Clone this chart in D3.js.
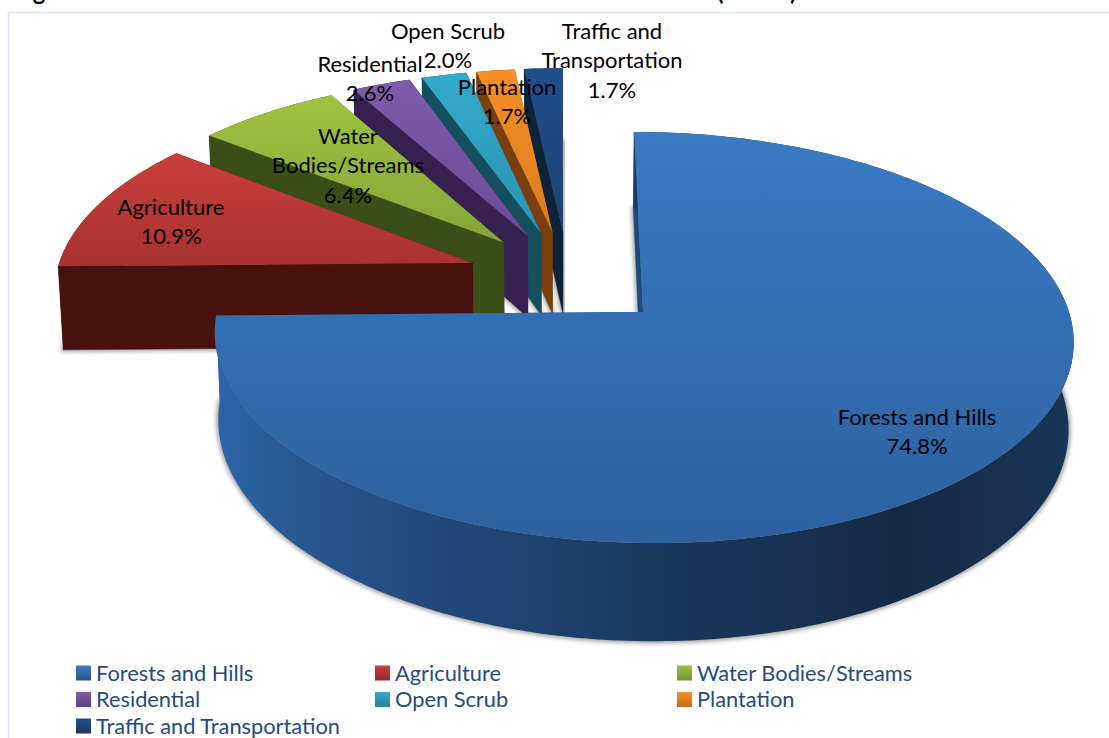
<!DOCTYPE html>
<html>
<head>
<meta charset="utf-8">
<script src="https://cdn.jsdelivr.net/npm/d3@7/dist/d3.min.js"></script>
<style>
  html, body { margin: 0; padding: 0; background: #fff; }
  svg { display: block; }
  text { font-family: Lato, "Open Sans", sans-serif; }
</style>
</head>
<body>
<div id="chart"></div>
<script>
// Land use shares, in percent
const categories = ["Forests and Hills", "Agriculture", "Water Bodies/Streams", "Residential", "Open Scrub", "Plantation", "Traffic and Transportation"];
const shares = [74.8, 10.9, 6.4, 2.6, 2.0, 1.7, 1.7];
const shareLabels = ["74.8%", "10.9%", "6.4%", "2.6%", "2.0%", "1.7%", "1.7%"];

// Slice colours: upper face (light, dark), side wall
const faceLight = ["#3a7bc4", "#c93e3a", "#a0c23f", "#7f5cab", "#33a9cb", "#f68f26", "#1f4f8c"];
const faceDark  = ["#2c609f", "#a83230", "#84a638", "#6c4a94", "#2a93b0", "#d97b1e", "#1b4170"];
const wallColor = ["#1c4473", "#47110d", "#3b4e17", "#352050", "#134f5f", "#7b3f0d", "#0c2339"];

// Label line breaks and their centres on the page
const labelLines = [["Forests and Hills"], ["Agriculture"], ["Water", "Bodies/Streams"], ["Residential"], ["Open Scrub"], ["Plantation"], ["Traffic and", "Transportation"]];
const labelCentres = [[917, 417], [171, 207], [348, 136], [370, 64], [448, 31], [507, 87], [612, 31]];

const W = 1109, H = 738;
const svg = d3.select("#chart").append("svg").attr("width", W).attr("height", H);
const defs = svg.append("defs");

// Camera: a tilted disc seen in perspective, vanishing towards x = 562
const radius = 426, tilt = 202.4, persp = 0.124, vanishX = 562;
const apexX = 643, apexY = 312, depth = 86, explode = 0.245;

function project(X, Z, lower) {
  const s = 1 / (1 - persp * Z);
  let x = vanishX + ((apexX - vanishX) + radius * X) * s;
  let y = apexY + tilt * Z * s;
  if (lower) {
    x = vanishX + (x - vanishX) * 0.99;
    y += depth * s;
  }
  return [x, y];
}

const arcs = d3.pie().sort(null).value(d => d)(shares);
const unit = a => [Math.sin(a), -Math.cos(a)];
const bisect = d => (d.startAngle + d.endAngle) / 2;

// Every slice moves out along its bisector; the camera is anchored on the large slice
const anchor = unit(bisect(arcs[0]));
const offsetOf = d => {
  const u = unit(bisect(d));
  return [explode * (u[0] - anchor[0]), explode * (u[1] - anchor[1])];
};

const line = d3.line();

function rim(d, lower) {
  const [ox, oz] = offsetOf(d);
  const n = Math.max(4, Math.ceil((d.endAngle - d.startAngle) * 60));
  return d3.range(n + 1).map(i => {
    const a = d.startAngle + (d.endAngle - d.startAngle) * i / n;
    const u = unit(a);
    return project(ox + u[0], oz + u[1], lower);
  });
}

function apex(d, lower) {
  const [ox, oz] = offsetOf(d);
  return project(ox, oz, lower);
}

function verticalGradient(id, a, b) {
  const g = defs.append("linearGradient").attr("id", id).attr("x1", 0).attr("x2", 0).attr("y1", 0).attr("y2", 1);
  g.append("stop").attr("offset", 0).attr("stop-color", a);
  g.append("stop").attr("offset", 1).attr("stop-color", b);
}

categories.forEach((c, i) => verticalGradient("face" + i, faceLight[i], faceDark[i]));
categories.forEach((c, i) => verticalGradient("key" + i, faceLight[i], d3.color(faceDark[i]).darker(0.35)));

// Side wall of the large slice darkens from left to right
const wallGrad = defs.append("linearGradient").attr("id", "wallLarge")
  .attr("gradientUnits", "userSpaceOnUse").attr("x1", 216).attr("x2", 1073).attr("y1", 0).attr("y2", 0);
[[0, "#2c65aa"], [0.1, "#28578f"], [0.24, "#234a7e"], [0.5, "#1a3a60"], [0.8, "#152a45"], [1, "#183555"]]
  .forEach(([o, c]) => wallGrad.append("stop").attr("offset", o).attr("stop-color", c));

defs.append("filter").attr("id", "soft").attr("x", "-5%").attr("y", "-5%").attr("width", "110%").attr("height", "110%")
  .append("feGaussianBlur").attr("stdDeviation", 2);

// Frame
svg.append("path").attr("d", line([[W, 12.5], [8.5, 12.5], [8.5, H]]))
  .attr("fill", "none").attr("stroke", "#d9e2f1").attr("stroke-width", 1.6);

// Heading, sliced by the top of the page
const heading = svg.append("g").attr("font-size", 24).attr("font-weight", 700).attr("fill", "#000");
heading.append("text").attr("x", 13).attr("y", 0).text("Figure");
heading.append("text").attr("x", 717).attr("y", 0).text("(");
heading.append("text").attr("x", 790).attr("y", 0).text(")");

// Slices are painted from the far end of the fan towards the viewer, the large one last
const order = arcs.map((d, i) => i).slice(1).reverse().concat(0);
const pieG = svg.append("g");

order.forEach(i => {
  const d = arcs[i];
  const top = rim(d, false), low = rim(d, true);
  const a0 = apex(d, false), a1 = apex(d, true);
  const g = pieG.append("g").attr("class", "slice");
  const wallFill = i === 0 ? "url(#wallLarge)" : wallColor[i];

  // soft contact shadow under the body
  g.append("path").attr("d", line([a1, ...low]) + "Z")
    .attr("fill", "#777").attr("stroke", "#777").attr("stroke-width", 4)
    .attr("opacity", 0.7).attr("filter", "url(#soft)");

  // radial walls
  const last = top.length - 1;
  g.append("path").attr("d", line([a0, top[last], low[last], a1]) + "Z").attr("fill", i === 0 ? "#1a3a60" : wallFill);
  g.append("path").attr("d", line([a0, top[0], low[0], a1]) + "Z").attr("fill", i === 0 ? "#1b4a7d" : wallFill).attr("stroke", i === 0 ? "#1b4a7d" : wallFill).attr("stroke-width", 0.5);

  // curved outer wall
  g.append("path").attr("d", line([...top, ...low.slice().reverse()]) + "Z").attr("fill", wallFill);

  // upper face
  g.append("path").attr("d", line([a0, ...top]) + "Z").attr("fill", `url(#face${i})`);
});

// Data labels
const labels = svg.append("g").attr("font-size", 22).attr("fill", "#000").attr("text-anchor", "middle");
categories.forEach((c, i) => {
  const [x, y] = labelCentres[i];
  const rows = [...labelLines[i], shareLabels[i]];
  rows.forEach((t, r) => {
    labels.append("text").attr("x", x).attr("y", y + r * 29.6).attr("dy", "0.35em").text(t);
  });
});

// Legend, three columns
const colX = d3.scaleOrdinal().domain([0, 1, 2]).range([76, 375, 677]);
const rowY = d3.scaleOrdinal().domain([0, 1, 2]).range([673, 699.5, 726]);
const legend = svg.append("g").attr("font-size", 21.8).attr("fill", "#244c7f");
categories.forEach((c, i) => {
  const col = i % 3, row = Math.floor(i / 3);
  const g = legend.append("g").attr("transform", `translate(${colX(col)},${rowY(row)})`);
  g.append("rect").attr("x", 0).attr("y", -7.5).attr("width", 15).attr("height", 15).attr("fill", `url(#key${i})`);
  g.append("text").attr("x", 20).attr("dy", "0.35em").text(c);
});
</script>
</body>
</html>
